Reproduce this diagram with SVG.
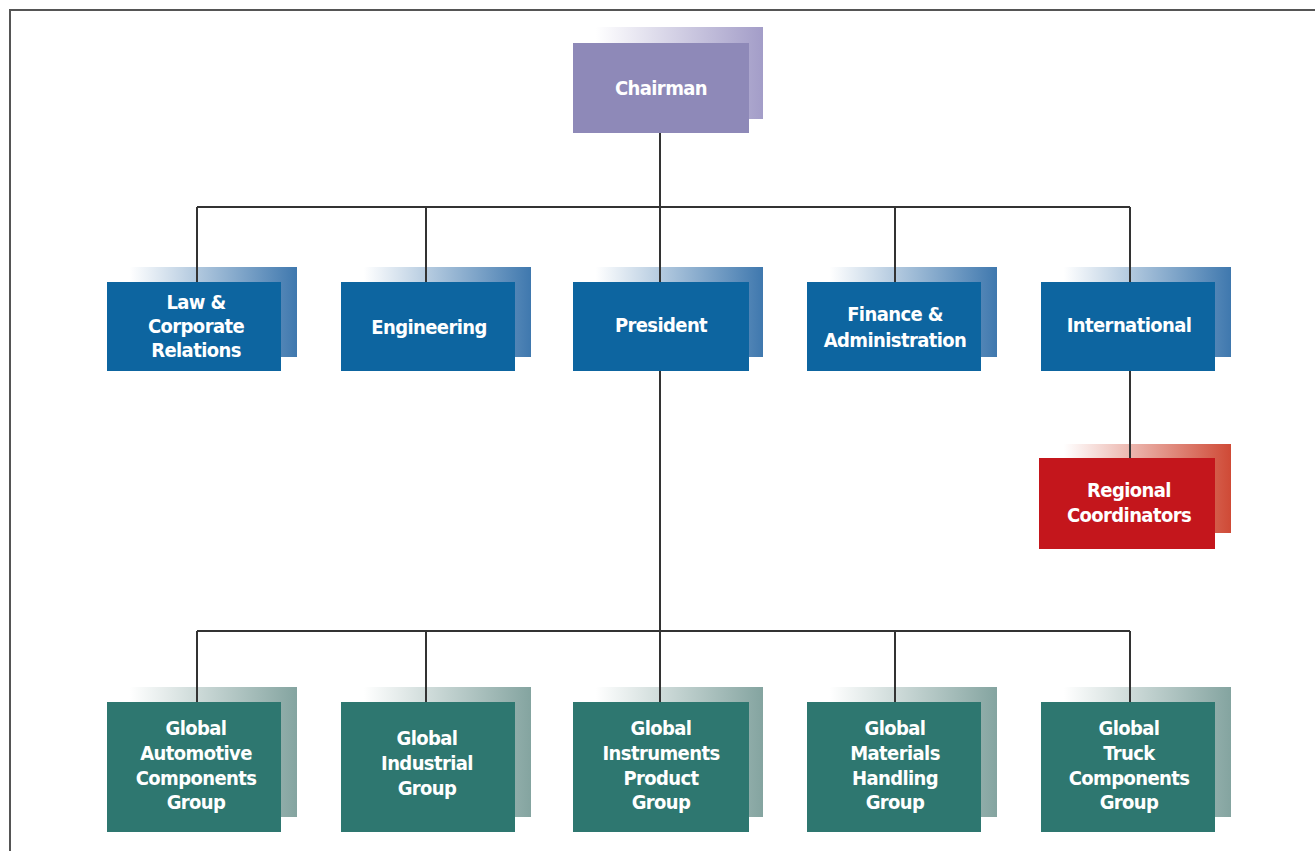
<svg xmlns="http://www.w3.org/2000/svg" width="1315" height="851" viewBox="0 0 1315 851">
<defs>
<linearGradient id="gP" x1="0" y1="0" x2="1" y2="0"><stop offset="0.05" stop-color="#ffffff"/><stop offset="1" stop-color="#A39DC8"/></linearGradient>
<linearGradient id="gB" x1="0" y1="0" x2="1" y2="0"><stop offset="0.05" stop-color="#ffffff"/><stop offset="1" stop-color="#3F78AE"/></linearGradient>
<linearGradient id="gR" x1="0" y1="0" x2="1" y2="0"><stop offset="0.05" stop-color="#ffffff"/><stop offset="1" stop-color="#CF4A36"/></linearGradient>
<linearGradient id="gT" x1="0" y1="0" x2="1" y2="0"><stop offset="0.05" stop-color="#ffffff"/><stop offset="1" stop-color="#84A4A0"/></linearGradient>
</defs>
<style>
.lbl{font-family:"Liberation Sans Narrow","DejaVu Sans Condensed","Liberation Sans",sans-serif;font-weight:bold;font-size:20px;letter-spacing:-0.6px;fill:#ffffff;text-anchor:middle}
.con{stroke:#333333;stroke-width:2;fill:none}
.fP{fill:#8E89B8}.fB{fill:#0D65A0}.fR{fill:#C4161C}.fT{fill:#2E7770}
</style>
<rect x="10" y="10" width="1320" height="860" fill="#ffffff" stroke="#555555" stroke-width="2"/>
<g id="shadows">
<rect x="587" y="27" width="176" height="92" fill="url(#gP)"/>
<rect x="121" y="267" width="176" height="90" fill="url(#gB)"/>
<rect x="355" y="267" width="176" height="90" fill="url(#gB)"/>
<rect x="587" y="267" width="176" height="90" fill="url(#gB)"/>
<rect x="821" y="267" width="176" height="90" fill="url(#gB)"/>
<rect x="1055" y="267" width="176" height="90" fill="url(#gB)"/>
<rect x="1055" y="444" width="176" height="89" fill="url(#gR)"/>
<rect x="121" y="687" width="176" height="130" fill="url(#gT)"/>
<rect x="355" y="687" width="176" height="130" fill="url(#gT)"/>
<rect x="587" y="687" width="176" height="130" fill="url(#gT)"/>
<rect x="821" y="687" width="176" height="130" fill="url(#gT)"/>
<rect x="1055" y="687" width="176" height="130" fill="url(#gT)"/>
</g>
<g id="connectors">
<path class="con" d="M660 133V282M197 207H1130M197 207V282M426 207V282M895 207V282M1130 207V282"/>
<path class="con" d="M660 371V702M197 631H1130M197 631V702M426 631V702M895 631V702M1130 631V702"/>
<path class="con" d="M1130 371V458"/>
</g>
<g id="chairman"><rect class="fP" x="573" y="43" width="176" height="90"/><text class="lbl" x="661" y="95">Chairman</text></g>
<g id="law"><rect class="fB" x="107" y="282" width="174" height="89"/><text class="lbl" x="196" y="309">Law &amp;</text><text class="lbl" x="196" y="333">Corporate</text><text class="lbl" x="196" y="357">Relations</text></g>
<g id="engineering"><rect class="fB" x="341" y="282" width="174" height="89"/><text class="lbl" x="429" y="334">Engineering</text></g>
<g id="president"><rect class="fB" x="573" y="282" width="176" height="89"/><text class="lbl" x="661" y="332">President</text></g>
<g id="finance"><rect class="fB" x="807" y="282" width="174" height="89"/><text class="lbl" x="895" y="321">Finance &amp;</text><text class="lbl" x="895" y="347">Administration</text></g>
<g id="international"><rect class="fB" x="1041" y="282" width="174" height="89"/><text class="lbl" x="1129" y="332">International</text></g>
<g id="regional"><rect class="fR" x="1039" y="458" width="176" height="91"/><text class="lbl" x="1129" y="497">Regional</text><text class="lbl" x="1129" y="522">Coordinators</text></g>
<g id="auto"><rect class="fT" x="107" y="702" width="174" height="130"/><text class="lbl" x="196" y="735">Global</text><text class="lbl" x="196" y="760">Automotive</text><text class="lbl" x="196" y="785">Components</text><text class="lbl" x="196" y="809">Group</text></g>
<g id="industrial"><rect class="fT" x="341" y="702" width="174" height="130"/><text class="lbl" x="427" y="745">Global</text><text class="lbl" x="427" y="770">Industrial</text><text class="lbl" x="427" y="795">Group</text></g>
<g id="instruments"><rect class="fT" x="573" y="702" width="176" height="130"/><text class="lbl" x="661" y="735">Global</text><text class="lbl" x="661" y="760">Instruments</text><text class="lbl" x="661" y="785">Product</text><text class="lbl" x="661" y="809">Group</text></g>
<g id="materials"><rect class="fT" x="807" y="702" width="174" height="130"/><text class="lbl" x="895" y="735">Global</text><text class="lbl" x="895" y="760">Materials</text><text class="lbl" x="895" y="785">Handling</text><text class="lbl" x="895" y="809">Group</text></g>
<g id="truck"><rect class="fT" x="1041" y="702" width="174" height="130"/><text class="lbl" x="1129" y="735">Global</text><text class="lbl" x="1129" y="760">Truck</text><text class="lbl" x="1129" y="785">Components</text><text class="lbl" x="1129" y="809">Group</text></g>
</svg>
